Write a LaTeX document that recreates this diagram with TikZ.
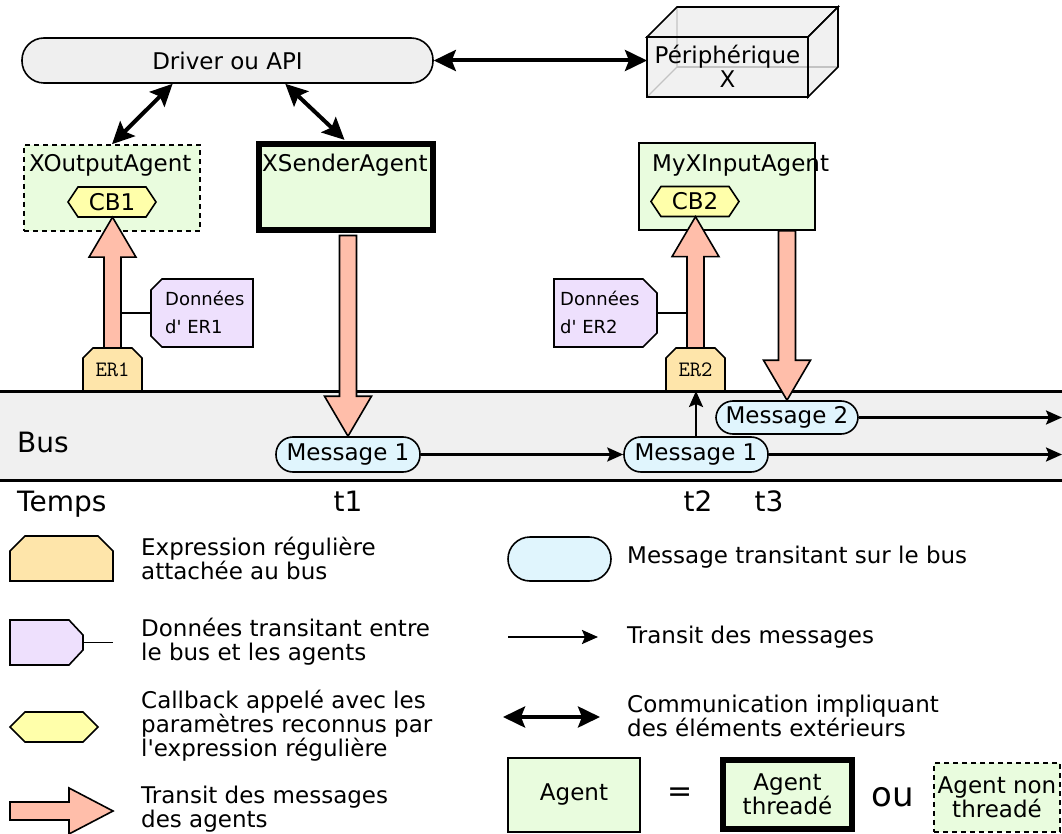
\documentclass[tikz,border=0pt]{standalone}
\usepackage{fontspec}
\setmainfont{DejaVu Sans}
\usetikzlibrary{arrows.meta,calc}
\definecolor{agentgreen}{RGB}{233,252,222}
\definecolor{drvgray}{RGB}{239,239,239}
\definecolor{cbyellow}{RGB}{255,255,170}
\definecolor{erorange}{RGB}{254,229,170}
\definecolor{donlav}{RGB}{238,224,253}
\definecolor{msgblue}{RGB}{224,245,253}
\definecolor{salmon}{RGB}{255,190,170}
\definecolor{busgray}{RGB}{240,240,240}
\definecolor{boxgray}{RGB}{232,232,232}
\newcommand\fA{\fontsize{23}{24}\selectfont}
\newcommand\fD{\fontsize{18}{28}\selectfont}
\newcommand\fB{\fontsize{28}{30}\selectfont}
\newcommand\fO{\fontsize{34}{36}\selectfont}
\newcommand\fQ{\fontsize{30}{32}\selectfont}
\newcommand\fE{\fontsize{22}{24}\selectfont\ttfamily}
\newcommand\bigarrow[3]{\draw[bigarr] let \p1=(#1), \p2=(#2) in
 (\x1-8.5pt,\y1) -- (\x1-8.5pt,{\y2-(#3)}) -- (\x1-23.5pt,{\y2-(#3)}) -- (\x1,\y2) -- (\x1+23.5pt,{\y2-(#3)}) -- (\x1+8.5pt,{\y2-(#3)}) -- (\x1+8.5pt,\y1) -- cycle;}
\begin{document}
\begin{tikzpicture}[x=1pt,y=-1pt,
 txt/.style={font=\fA, inner sep=0pt},
 lw/.style={line width=1.6pt},
 agentbox/.style={draw, lw, fill=agentgreen, inner sep=0pt, font=\fA, align=center},
 thr/.style={agentbox, line width=5.5pt},
 nthr/.style={agentbox, dash pattern=on 5pt off 4pt},
 msg/.style={draw, lw, fill=msgblue, rounded corners=17pt, minimum width=144pt, minimum height=35pt, inner sep=0pt, font=\fA},
 ext/.style={line width=4pt, {Stealth[length=22pt,width=21pt,inset=4pt]}-{Stealth[length=22pt,width=21pt,inset=4pt]}},
 flow/.style={line width=2.5pt, -{Stealth[length=16pt,width=14pt,inset=3pt]}},
 bigarr/.style={draw, lw, fill=salmon, line join=miter},
 ersty/.style={draw, lw, fill=erorange},
 donsty/.style={draw, lw, fill=donlav},
 cbsty/.style={draw, lw, fill=cbyellow},
 ghost/.style={inner sep=0pt, outer sep=0pt},
 hiddenedge/.style={draw=black!45, line width=1.2pt},
]
\useasboundingbox (0,0) rectangle (1062,834);

% bus
\fill[busgray] (0,391) rectangle (1062,480);
\draw[line width=3pt] (0,391) -- (1062,391);
\draw[line width=3pt] (0,480) -- (1062,480);
\coordinate (re) at (1062,0);

% driver
\node[draw, lw, fill=drvgray, rounded corners=22pt, minimum width=411pt, minimum height=45pt, font=\fA] (drv) at (227.5,60.5) {Driver ou API};

% peripheral
\node[ghost, minimum width=161pt, minimum height=60pt] (peri) at (727.5,67) {};
\draw[hiddenedge] (peri.south west) -- ++(30,-30) coordinate (bk) -- ++(0,-60);
\draw[hiddenedge] (bk) -- ++(161,0);
\fill[boxgray, opacity=0.6] (peri.north west) rectangle (peri.south east);
\filldraw[lw, fill=boxgray, fill opacity=0.6] (peri.north west) -- ++(30,-30) -- ++(161,0) -- ++(-30,30) -- cycle;
\filldraw[lw, fill=boxgray, fill opacity=0.6] (peri.north east) -- ++(30,-30) -- ++(0,60) -- ++(-30,30) -- cycle;
\draw[lw] (peri.north west) rectangle (peri.south east);
\node[txt, align=center, anchor=base] (perit) at (727.5,88) {Périphérique\\X};

% agents
\node[nthr, minimum width=176pt, minimum height=86pt] (xo) at (112,188) {};
\node[txt, anchor=base west] (xol) at (29,172) {XOutputAgent};
\node[thr, minimum width=174pt, minimum height=86pt] (xs) at (346,187) {};
\node[txt, anchor=base west] (xsl) at (262,172) {XSenderAgent};
\node[agentbox, minimum width=176pt, minimum height=87pt] (mx) at (727,186.5) {};
\node[txt, anchor=base west] (mxl) at (652,172) {MyXInputAgent};

% callbacks
\draw[cbsty] (68,202) -- (78,187) -- (146,187) -- (156,202) -- (146,217) -- (78,217) -- cycle;
\node[txt, minimum width=88pt, minimum height=30pt] (cb1) at (112,202) {CB1};
\draw[cbsty] (651,201.5) -- (661,186.5) -- (729,186.5) -- (739,201.5) -- (729,216.5) -- (661,216.5) -- cycle;
\node[txt, minimum width=88pt, minimum height=30pt] (cb2) at (695,201.5) {CB2};

% regular expressions
\draw[ersty] (83,391) -- (83,358) -- (93,348) -- (132,348) -- (142,358) -- (142,391) -- cycle;
\node[ghost, font=\fE, minimum width=59pt, minimum height=43pt] (er1) at (112.5,369.5) {ER1};
\draw[ersty] (666,391) -- (666,358) -- (676,348) -- (715,348) -- (725,358) -- (725,391) -- cycle;
\node[ghost, font=\fE, minimum width=59pt, minimum height=43pt] (er2) at (695.5,369.5) {ER2};

% data
\draw[donsty] (162,279) -- (253,279) -- (253,347) -- (162,347) -- (151,336) -- (151,290) -- cycle;
\node[ghost, minimum width=102pt, minimum height=68pt] (d1) at (202,313) {};
\node[txt, font=\fD, anchor=base west, align=left] (d1t) at (165,333) {Données\\d\textquotesingle{} ER1};
\draw[donsty] (554,279) -- (643,279) -- (657,293) -- (657,333) -- (643,347) -- (554,347) -- cycle;
\node[ghost, minimum width=103pt, minimum height=68pt] (d2) at (605.5,313) {};
\node[txt, font=\fD, anchor=base west, align=left] (d2t) at (560,333) {Données\\d\textquotesingle{} ER2};
\coordinate (sh1) at ($(er1.north)+(8.5,0)$);
\draw[lw] (d1.west) -- (d1.west -| sh1);
\coordinate (sh2) at ($(er2.north)+(-8.5,0)$);
\draw[lw] (d2.east) -- (d2.east -| sh2);

% messages
\node[msg] (m1) at (348,454.5) {Message 1};
\node[msg] (m2) at (696,454.5) {Message 1};
\node[msg, minimum width=142pt, minimum height=33pt] (m3) at (787,417.5) {Message 2};

% external communication
\draw[ext] (drv.east) -- (drv.east -| peri.west);
\draw[ext] ($(drv.south west)!0.367!(drv.south east)$) -- (xo.north);
\draw[ext, shorten >=2pt] ($(drv.south west)!0.64!(drv.south east)$) -- (xs.north);

% message transit
\draw[flow] (m1.east) -- (m2.west);
\draw[flow] (m2.east) -- (m2.east -| re);
\draw[flow] (m3.east) -- (m3.east -| re);
\draw[flow] (m2.north) -- (m2.north |- er2.south);

% big arrows
\bigarrow{er1.north}{cb1.south}{40pt}
\bigarrow{er2.north}{cb2.south}{40pt}
\bigarrow{$(m1.north |- xs.south)+(0,2.75)$}{m1.north}{-40pt}
\bigarrow{m3.north |- mx.south}{m3.north}{-40pt}

% bus labels
\node[txt, font=\fB, anchor=base west] (bus) at (17,452) {Bus};
\node[txt, font=\fB, anchor=base west] (temps) at (17,511) {Temps};
\node[txt, font=\fB, anchor=base] (t1) at (348,511) {t1};
\node[txt, font=\fB, anchor=base] (t2) at (698,511) {t2};
\node[txt, font=\fB, anchor=base] (t3) at (769,511) {t3};

% legend left
\draw[ersty] (10,581) -- (10,551) -- (25,536) -- (98,536) -- (113,551) -- (113,581) -- cycle;
\node[txt, anchor=base west, align=left] (l1) at (141,579) {Expression régulière\\attachée au bus};
\draw[donsty] (10,620) -- (69,620) -- (83,635) -- (83,650) -- (69,665) -- (10,665) -- cycle;
\node[ghost, minimum width=73pt, minimum height=45pt] (ld) at (46.5,642.5) {};
\coordinate (ldend) at (113,642.5);
\draw[lw] (ld.east) -- (ldend);
\node[txt, anchor=base west, align=left] (l2) at (141,660) {Données transitant entre\\le bus et les agents};
\draw[cbsty] (10,727) -- (25,712) -- (83,712) -- (98,727) -- (83,742) -- (25,742) -- cycle;
\node[txt, anchor=base west, align=left] (l3) at (141,756) {Callback appelé avec les\\paramètres reconnus par\\l\textquotesingle expression régulière};
\draw[bigarr] (10,802) -- (69,802) -- (69,788) -- (113,811) -- (69,834) -- (69,820) -- (10,820) -- cycle;
\node[txt, anchor=base west, align=left] (l4) at (141,827) {Transit des messages\\des agents};

% legend right
\node[msg, minimum width=103pt, minimum height=44pt, rounded corners=22pt] (lm) at (559.5,559) {};
\node[txt, anchor=base west] (l5) at (627,563) {Message transitant sur le bus};
\coordinate (lfa) at (508,637);
\coordinate (lfb) at (598,637);
\draw[flow] (lfa) -- (lfb);
\node[txt, anchor=base west] (l6) at (627,643) {Transit des messages};
\coordinate (lea) at (503,717);
\coordinate (leb) at (600,717);
\draw[ext] (lea) -- (leb);
\node[txt, anchor=base west, align=left] (l7) at (627,736) {Communication impliquant\\des éléments extérieurs};
\node[agentbox, minimum width=132pt, minimum height=74pt] (la) at (574,795) {Agent};
\node[txt, font=\fQ] (eq) at (680,795) {=};
\node[thr, minimum width=129pt, minimum height=69pt] (lt) at (787.5,794.5) {Agent\\threadé};
\node[txt, font=\fO] (ou) at (893,797) {ou};
\node[nthr, minimum width=126pt, minimum height=69pt] (ln) at (997,797.5) {Agent non\\threadé};
\end{tikzpicture}
\end{document}
